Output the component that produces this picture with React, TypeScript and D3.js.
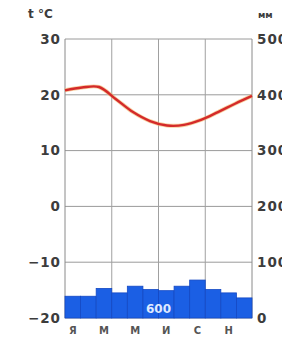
import React from "react";
import * as d3 from "d3";

const months = ["Я", "Ф", "М", "А", "М", "И", "И", "А", "С", "О", "Н", "Д"];
const precipitation = [39, 39, 53, 45, 57, 51, 49, 57, 68, 51, 45, 36];
const temperature = [20.8, 21.3, 21.4, 19.2, 16.9, 15.3, 14.5, 14.6, 15.5, 16.9, 18.4, 19.8];
const tempTicks = [30, 20, 10, 0, -10, -20];
const precipTicks = [500, 400, 300, 200, 100, 0];
const totalLabel = "600";

const W = 282;
const H = 338;
const left = 65;
const right = 252;
const top = 39;
const bottom = 318;

export default function App() {
  const yT = d3.scaleLinear().domain([-20, 30]).range([bottom, top]);
  const yP = d3.scaleLinear().domain([0, 500]).range([bottom, top]);
  const xB = d3
    .scaleBand<number>()
    .domain(d3.range(12))
    .range([left, right])
    .paddingInner(0)
    .paddingOuter(0);
  const xL = d3.scaleLinear().domain([0, 11]).range([left, right]);
  const line = d3
    .line<number>()
    .x((_, i) => xL(i))
    .y((d) => yT(d))
    .curve(d3.curveCatmullRom.alpha(0.5));
  const path = line(temperature) || "";
  const bw = xB.bandwidth();
  const vlines = [0, 3, 6, 9, 12].map((m) => left + m * bw);
  const font = "'DejaVu Sans', Verdana, sans-serif";

  return (
    <svg
      width={W}
      height={H}
      style={{ position: "fixed", left: 0, top: 0, background: "#fff" }}
    >
      <rect x={0} y={0} width={W} height={H} fill="#fff" />
      {/* horizontal grid */}
      {tempTicks.map((t) => (
        <line
          key={"h" + t}
          x1={left}
          x2={right}
          y1={yT(t)}
          y2={yT(t)}
          stroke="#9a9a9a"
          strokeWidth={1}
        />
      ))}
      {/* vertical grid */}
      {vlines.map((x, i) => (
        <line
          key={"v" + i}
          x1={x}
          x2={x}
          y1={top}
          y2={bottom}
          stroke={i === 0 || i === 4 ? "#8a8a8a" : "#a0a0a0"}
          strokeWidth={1}
        />
      ))}
      {/* bars */}
      {precipitation.map((p, i) => (
        <rect
          key={"b" + i}
          x={xB(i)}
          y={yP(p)}
          width={bw}
          height={bottom - yP(p)}
          fill="#1b5fe4"
          stroke="#1449c4"
          strokeWidth={0.8}
        />
      ))}
      <text
        x={left + 6 * bw}
        y={313}
        textAnchor="middle"
        fontFamily={font}
        fontWeight="bold"
        fontSize={12}
        fill="#dfe9ff"
      >
        {totalLabel}
      </text>
      {/* temperature line */}
      <path d={path} fill="none" stroke="#f4b060" strokeWidth={4} opacity={0.6} />
      <path d={path} fill="none" stroke="#d42a2a" strokeWidth={2.4} />
      {/* left axis labels */}
      {tempTicks.map((t) => (
        <text
          key={"lt" + t}
          x={61}
          y={yT(t)}
          dy="0.36em"
          textAnchor="end"
          fontFamily={font}
          fontWeight="bold"
          fontSize={13.5}
          letterSpacing={1}
          fill="#3c3c3c"
        >
          {t < 0 ? "\u2212" + Math.abs(t) : String(t)}
        </text>
      ))}
      {/* right axis labels */}
      {precipTicks.map((p) => (
        <text
          key={"rp" + p}
          x={257}
          y={yP(p)}
          dy="0.36em"
          textAnchor="start"
          fontFamily={font}
          fontWeight="bold"
          fontSize={13.5}
          letterSpacing={1}
          fill="#3c3c3c"
        >
          {p}
        </text>
      ))}
      <text
        x={28}
        y={18}
        fontFamily={font}
        fontWeight="bold"
        fontSize={12}
        fill="#3c3c3c"
      >
        t °C
      </text>
      <text
        x={258}
        y={18}
        fontFamily={font}
        fontWeight="bold"
        fontSize={9}
        fill="#3c3c3c"
      >
        мм
      </text>
      {/* month labels */}
      {months.map((m, i) =>
        i % 2 === 0 ? (
          <text
            key={"m" + i}
            x={(xB(i) || 0) + bw / 2}
            y={334}
            textAnchor="middle"
            fontFamily={font}
            fontWeight="bold"
            fontSize={10}
            fill="#555"
          >
            {m}
          </text>
        ) : null
      )}
    </svg>
  );
}
